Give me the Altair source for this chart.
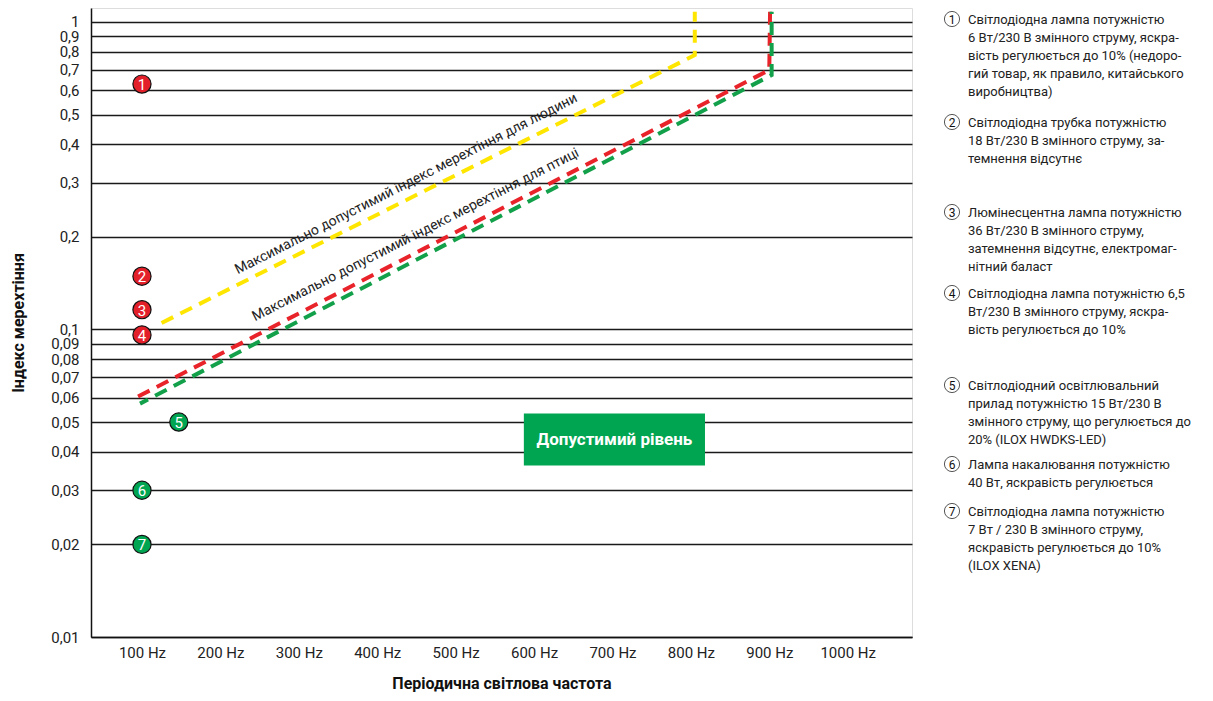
import altair as alt
import pandas as pd

# ---------------- data ----------------
point_ids = ["1", "2", "3", "4", "5", "6", "7"]
point_freq = [100, 100, 100, 100, 147, 100, 100]
point_index = [0.628, 0.149, 0.116, 0.096, 0.05, 0.03, 0.02]
point_group = ["red", "red", "red", "red", "green", "green", "green"]

human_freq = [125, 805, 805]
human_index = [0.105, 0.78, 1.08]
bird_red_freq = [95, 900, 901]
bird_red_index = [0.0605, 0.698, 1.08]
bird_green_freq = [97.5, 903, 903]
bird_green_index = [0.0574, 0.672, 1.08]

y_ticks = [0.01, 0.02, 0.03, 0.04, 0.05, 0.06, 0.07, 0.08, 0.09,
           0.1, 0.2, 0.3, 0.4, 0.5, 0.6, 0.7, 0.8, 0.9, 1]
y_labels = ["0,01", "0,02", "0,03", "0,04", "0,05", "0,06", "0,07", "0,08", "0,09",
            "0,1", "0,2", "0,3", "0,4", "0,5", "0,6", "0,7", "0,8", "0,9", "1"]
x_ticks = [100, 200, 300, 400, 500, 600, 700, 800, 900, 1000]
x_labels = ["100 Hz", "200 Hz", "300 Hz", "400 Hz", "500 Hz",
            "600 Hz", "700 Hz", "800 Hz", "900 Hz", "1000 Hz"]

line_labels = ["Максимально допустимий індекс мерехтіння для людини",
               "Максимально допустимий індекс мерехтіння для птиці"]
line_label_freq = [437, 449]
line_label_index = [0.297, 0.203]

zone_label = "Допустимий рівень"
zone_freq = [587, 818]
zone_index = [0.0361, 0.0533]

legend_nums = ["1", "2", "3", "4", "5", "6", "7"]
legend_texts = [
    "Світлодіодна лампа потужністю\n6 Вт/230 В змінного струму, яскра-\nвість регулюється до 10% (недоро-\nгий товар, як правило, китайського\nвиробництва)",
    "Світлодіодна трубка потужністю\n18 Вт/230 В змінного струму, за-\nтемнення відсутнє",
    "Люмінесцентна лампа потужністю\n36 Вт/230 В змінного струму,\nзатемнення відсутнє, електромаг-\nнітний баласт",
    "Світлодіодна лампа потужністю 6,5\nВт/230 В змінного струму, яскра-\nвість регулюється до 10%",
    "Світлодіодний освітлювальний\nприлад потужністю 15 Вт/230 В\nзмінного струму, що регулюється до\n20% (ILOX HWDKS-LED)",
    "Лампа накалювання потужністю\n40 Вт, яскравість регулюється",
    "Світлодіодна лампа потужністю\n7 Вт / 230 В змінного струму,\nяскравість регулюється до 10%\n(ILOX XENA)",
]

# layout (pixel rows of legend items, relative to page)
legend_row_px = [19, 122, 212, 293, 385, 464, 511]

FONT = "Roboto"
RED = "#e3202a"
GREEN = "#00a551"
YELLOW = "#ffe600"
LINE_RED = "#e8232a"
LINE_GREEN = "#13a04a"

X_DOMAIN = [35, 1082]
Y_DOMAIN = [0.01, 1.11]
PLOT_LEFT = 91
PLOT_TOP = 8

label_expr = " : ".join(f"datum.value == {v} ? '{l}'" for v, l in zip(y_ticks, y_labels)) + " : ''"
xlabel_expr = " : ".join(f"datum.value == {v} ? '{l}'" for v, l in zip(x_ticks, x_labels)) + " : ''"

xs = alt.Scale(domain=X_DOMAIN, nice=False, zero=False)
ys = alt.Scale(type="log", domain=Y_DOMAIN, nice=False)

# ---------------- frame / axes ----------------
axis_df = pd.DataFrame({"f": [X_DOMAIN[0]], "v": [Y_DOMAIN[0]]})
frame = alt.Chart(axis_df).mark_point(opacity=0).encode(
    x=alt.X("f:Q", scale=xs, title="Періодична світлова частота",
            axis=alt.Axis(values=x_ticks, labelExpr=xlabel_expr, grid=False, ticks=False,
                          domainColor="#111", domainWidth=1.5, labelFont=FONT,
                          labelFontSize=15, labelColor="#222", labelPadding=8,
                          labelOverlap=False, labelFlush=False,
                          titleFont=FONT, titleFontSize=16, titleFontWeight="bold",
                          titleColor="#111", titlePadding=15)),
    y=alt.Y("v:Q", scale=ys, title="Індекс мерехтіння",
            axis=alt.Axis(values=y_ticks, labelExpr=label_expr, grid=True,
                          gridColor="#1a1a1a", gridWidth=1.5, ticks=False,
                          domainColor="#111", domainWidth=1.5, labelFont=FONT,
                          labelFontSize=15, labelColor="#222", labelPadding=12,
                          labelOverlap=False, labelFlush=False,
                          titleFont=FONT, titleFontSize=16, titleFontWeight="bold",
                          titleColor="#111", titlePadding=24)),
)

# ---------------- limit lines ----------------
def limit_line(freq, idx, color, offset=0):
    df = pd.DataFrame({"f": freq, "v": idx, "o": list(range(len(freq)))})
    return alt.Chart(df).mark_line(color=color, strokeWidth=4, strokeDash=[13, 8],
                                   strokeDashOffset=offset, strokeCap="butt",
                                   strokeJoin="miter").encode(
        x=alt.X("f:Q", scale=xs), y=alt.Y("v:Q", scale=ys), order="o:Q")

human = limit_line(human_freq, human_index, YELLOW)
bird_red = limit_line(bird_red_freq, bird_red_index, LINE_RED)
bird_green = limit_line(bird_green_freq, bird_green_index, LINE_GREEN, offset=4)

lab_df = pd.DataFrame({"t": line_labels, "f": line_label_freq, "v": line_label_index})
line_text = alt.Chart(lab_df).mark_text(font=FONT, fontSize=14, color="#222", angle=333,
                                        align="center", baseline="middle").encode(
    x=alt.X("f:Q", scale=xs), y=alt.Y("v:Q", scale=ys), text="t:N")

# ---------------- allowed zone box ----------------
zone_df = pd.DataFrame({"f": [zone_freq[0]], "f2": [zone_freq[1]],
                        "v": [zone_index[0]], "v2": [zone_index[1]],
                        "fm": [(zone_freq[0] + zone_freq[1]) / 2],
                        "vm": [(zone_index[0] * zone_index[1]) ** 0.5],
                        "t": [zone_label]})
zone_rect = alt.Chart(zone_df).mark_rect(color=GREEN).encode(
    x=alt.X("f:Q", scale=xs), x2="f2:Q", y=alt.Y("v:Q", scale=ys), y2="v2:Q")
zone_text = alt.Chart(zone_df).mark_text(font=FONT, fontSize=17, fontWeight="bold",
                                         color="white", baseline="middle").encode(
    x=alt.X("fm:Q", scale=xs), y=alt.Y("vm:Q", scale=ys), text="t:N")

# ---------------- measurement points ----------------
pts_df = pd.DataFrame({"id": point_ids, "f": point_freq, "v": point_index, "g": point_group})
pts = alt.Chart(pts_df).mark_circle(size=330, opacity=1, stroke="#111",
                                    strokeWidth=1.2).encode(
    x=alt.X("f:Q", scale=xs), y=alt.Y("v:Q", scale=ys),
    color=alt.Color("g:N", scale=alt.Scale(domain=["red", "green"], range=[RED, GREEN]),
                    legend=None))
pts_text = alt.Chart(pts_df).mark_text(font=FONT, fontSize=15, color="white",
                                       baseline="middle", dy=1).encode(
    x=alt.X("f:Q", scale=xs), y=alt.Y("v:Q", scale=ys), text="id:N")

# ---------------- right-hand legend ----------------
leg_df = pd.DataFrame({"n": legend_nums, "t": legend_texts,
                       "py": [p - PLOT_TOP for p in legend_row_px]})
leg_circle = alt.Chart(leg_df).mark_point(shape="circle", filled=False, color="#111",
                                          strokeWidth=1, size=230).encode(
    x=alt.value(952 - PLOT_LEFT), y=alt.Y("py:Q", scale=None))
leg_num = alt.Chart(leg_df).mark_text(font=FONT, fontSize=12, color="#111",
                                      baseline="middle", dy=1).encode(
    x=alt.value(952 - PLOT_LEFT), y=alt.Y("py:Q", scale=None), text="n:N")
leg_text = alt.Chart(leg_df).mark_text(font=FONT, fontSize=13, color="#222",
                                       align="left", baseline="alphabetic",
                                       lineBreak="\n", lineHeight=18, dy=5).encode(
    x=alt.value(968 - PLOT_LEFT), y=alt.Y("py:Q", scale=None), text="t:N")

chart = alt.layer(
    frame, zone_rect, zone_text, human, bird_red, bird_green, line_text,
    pts, pts_text, leg_circle, leg_num, leg_text,
).properties(
    width=821, height=629,
    autosize=alt.AutoSizeParams(type="none"),
    padding={"left": PLOT_LEFT - 8, "top": PLOT_TOP - 8, "right": 290, "bottom": 62},
).configure_view(stroke=None).configure(background="white")

chart.save("out.html", embed_options={"renderer": "svg", "actions": False})
